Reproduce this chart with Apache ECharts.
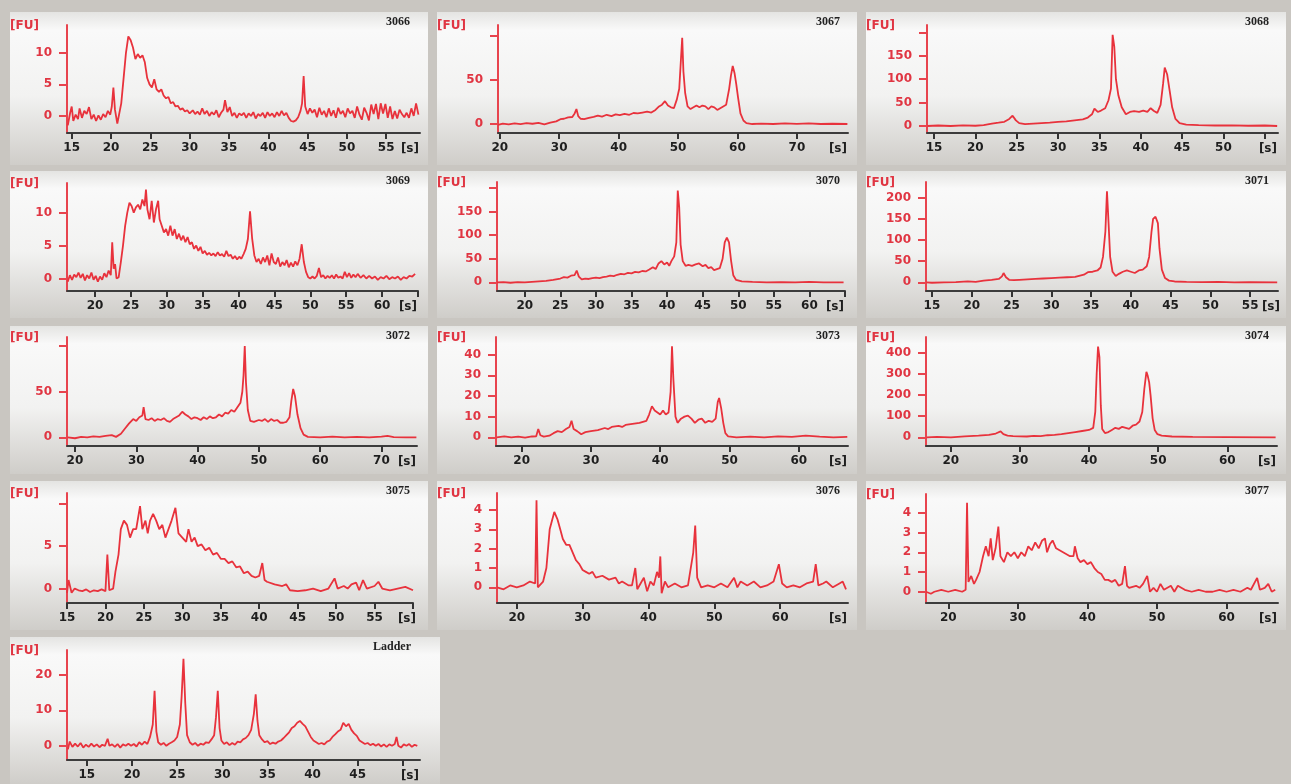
<!DOCTYPE html>
<html><head><meta charset="utf-8">
<script src="https://cdn.jsdelivr.net/npm/echarts@6/dist/echarts.min.js"></script>
<style>html,body{margin:0;padding:0;background:#c9c6c1;}#c{width:1291px;height:784px;}</style>
</head><body><div id="c"></div>
<script>
// ---------- data (time [s], fluorescence [FU]) ----------
const s3066 = [[14.5,-1.5],[14.8,0.5],[15.0,1.5],[15.2,-0.8],[15.5,0.2],[15.8,-0.5],[16.0,1.2],[16.3,-0.3],[16.6,0.8],[16.9,0.3],[17.2,1.4],[17.5,-0.5],[17.8,0.2],[18.1,-0.8],[18.4,0.1],[18.7,-0.6],[19.0,0.3],[19.3,-0.2],[19.6,0.8],[19.9,0.2],[20.1,1.5],[20.3,4.5],[20.5,1.0],[20.8,-1.2],[21.0,-1.5],[21.3,2],[21.6,6],[21.9,10],[22.2,12.6],[22.5,12],[22.8,10.8],[23.1,9],[23.4,9.8],[23.7,9.2],[24.0,9.6],[24.3,8.5],[24.6,6.0],[24.9,5.0],[25.2,4.5],[25.5,5.8],[25.8,4.2],[26.1,3.8],[26.4,4.2],[26.7,3.2],[27.0,2.8],[27.3,3.0],[27.6,2.0],[27.9,2.2],[28.2,1.5],[28.5,1.6],[28.8,1.0],[29.1,1.2],[29.4,0.7],[29.7,0.9],[30.0,0.4],[30.4,0.9],[30.7,0.3],[31.0,0.7],[31.3,0.2],[31.6,1.2],[31.9,0.3],[32.2,0.8],[32.5,0],[32.8,0.6],[33.1,0.2],[33.4,0.9],[33.7,-0.2],[34.0,0.5],[34.3,1.0],[34.5,2.5],[34.8,0.6],[35.1,1.4],[35.4,0],[35.7,0.5],[36.0,-0.3],[36.3,0.4],[36.6,0.1],[36.9,0.5],[37.2,-0.3],[37.5,0.4],[37.8,0],[38.1,0.6],[38.4,-0.4],[38.7,0.3],[39.0,0],[39.3,0.5],[39.6,-0.3],[39.9,0.6],[40.2,0],[40.5,0.4],[40.8,-0.2],[41.1,0.6],[41.4,0],[41.7,0.8],[42.0,0.1],[42.3,0.5],[42.6,-0.3],[42.9,-0.8],[43.2,-0.9],[43.5,-0.7],[43.8,-0.2],[44.1,0.8],[44.3,2.0],[44.5,6.3],[44.7,1.5],[45.0,0.3],[45.3,1.2],[45.6,0.5],[45.9,1.0],[46.2,-0.2],[46.5,1.3],[46.8,0.2],[47.1,0.8],[47.4,-0.2],[47.7,1.2],[48.0,0],[48.3,0.9],[48.6,-0.3],[48.9,1.3],[49.2,0.3],[49.5,0.8],[49.8,-0.2],[50.1,1.2],[50.4,0.4],[50.7,0.8],[51.0,-0.3],[51.3,1.5],[51.6,0.2],[51.9,-0.6],[52.2,1.3],[52.5,0.5],[52.8,-0.7],[53.1,1.8],[53.4,0.3],[53.7,1.9],[54.0,-0.5],[54.3,2.0],[54.6,0.4],[54.9,1.9],[55.2,-0.3],[55.5,1.5],[55.8,-0.5],[56.1,0.8],[56.4,-0.4],[56.7,1.0],[57.0,0.3],[57.3,-0.2],[57.6,0.5],[57.9,-0.3],[58.2,1.2],[58.5,0],[58.8,2.0],[59.1,0.2]];
const s3067 = [[19.7,-1],[20.5,0.5],[21.5,-0.5],[22.5,0.8],[23.5,0],[24.5,1],[25.5,0.3],[26.5,1.2],[27.5,-0.5],[28.5,1.5],[29.5,3],[30.2,5.5],[30.8,6],[31.5,7.5],[32.2,8],[32.6,12],[32.9,17],[33.2,9],[33.6,6],[34.2,5.5],[35,7],[35.8,8],[36.5,9.5],[37.2,8.5],[38,10.5],[38.8,9],[39.5,11],[40.2,10],[41,11.5],[41.8,10.5],[42.5,12.5],[43.2,12],[44,13],[44.8,14],[45.5,13],[46.2,16],[46.8,20],[47.3,22],[47.8,26],[48.3,21],[48.8,19],[49.3,18],[49.8,28],[50.2,40],[50.5,75],[50.7,98],[50.9,60],[51.2,35],[51.6,20],[52.1,17],[52.6,19],[53.1,21],[53.6,19],[54.1,21],[54.6,20],[55.1,17],[55.6,20],[56.1,19],[56.6,16],[57.1,18],[57.6,20],[58.1,22],[58.6,40],[58.9,55],[59.2,66],[59.5,58],[59.8,45],[60.1,30],[60.5,12],[61,4],[61.5,1],[62.5,0],[64,0.5],[66,0],[68,0.8],[70,0.2],[72,0.8],[74,0],[76,0.3],[78.5,0]];
const s3068 = [[14.2,0],[15.5,1],[17,0],[18.5,1.5],[20,0.5],[21,2],[22,5],[22.8,7],[23.5,9],[24.1,15],[24.5,22],[24.9,12],[25.3,6],[26,4],[27,5],[28,6],[29,7],[30,9],[31,10],[32,12],[33,14],[33.6,18],[34.1,25],[34.4,37],[34.8,30],[35.2,33],[35.7,38],[36.1,55],[36.4,80],[36.6,195],[36.8,170],[37.0,100],[37.3,65],[37.7,40],[38.2,25],[38.7,30],[39.2,32],[39.8,30],[40.3,33],[40.8,30],[41.2,38],[41.6,32],[42.0,28],[42.4,45],[42.7,90],[42.9,125],[43.2,110],[43.5,75],[43.8,40],[44.2,15],[44.7,6],[45.5,3],[47,2],[49,1],[51,1.5],[53,0.5],[55,1],[56.5,0]];
const s3069 = [[16.2,-0.5],[16.5,0.5],[16.8,-0.2],[17.1,0.6],[17.4,0.2],[17.7,0.9],[18.0,0.1],[18.3,0.7],[18.6,-0.3],[18.9,0.5],[19.2,0],[19.5,0.9],[19.8,-0.2],[20.1,0.4],[20.4,-0.5],[20.7,0.3],[21.0,-0.2],[21.3,0.8],[21.6,0.2],[21.9,1.2],[22.2,0.5],[22.4,5.5],[22.6,1.5],[22.8,2.2],[23.0,0],[23.3,0.2],[23.6,2.5],[23.9,5],[24.2,8],[24.5,10],[24.8,11.5],[25.1,11],[25.4,10],[25.7,10.8],[26.0,11.2],[26.3,10.5],[26.6,12],[26.9,11],[27.1,13.5],[27.3,10.5],[27.6,9],[27.9,11.8],[28.2,8.5],[28.5,10.5],[28.8,11.8],[29.0,9],[29.3,8],[29.6,7],[29.9,7.5],[30.2,6.5],[30.5,8],[30.8,6.5],[31.1,7.5],[31.4,6],[31.7,6.8],[32.0,5.8],[32.3,6.5],[32.6,5.5],[32.9,6.3],[33.2,5.2],[33.5,5.5],[33.8,4.5],[34.1,5],[34.4,4.2],[34.7,4.8],[35.0,3.8],[35.3,4.2],[35.6,3.6],[35.9,3.9],[36.2,3.5],[36.5,3.8],[36.8,3.4],[37.1,4],[37.4,3.5],[37.7,3.7],[38.0,3.3],[38.3,4.2],[38.6,3.4],[38.9,3.6],[39.2,3],[39.5,3.4],[39.8,2.9],[40.1,3.3],[40.4,3],[40.7,3.7],[41.0,4.5],[41.3,6],[41.6,10.2],[41.9,6],[42.2,3.5],[42.5,2.5],[42.8,3],[43.1,2.2],[43.4,3.2],[43.7,2.5],[44.0,3.5],[44.3,2],[44.6,3.8],[44.9,2.5],[45.2,2.2],[45.5,3.2],[45.8,1.8],[46.1,2.5],[46.4,2],[46.7,2.8],[47.0,1.7],[47.3,2.4],[47.6,1.8],[47.9,2.6],[48.2,2],[48.5,3],[48.8,5.2],[49.1,2.5],[49.4,1],[49.7,0.2],[50.0,0],[50.3,0.3],[50.6,0],[50.9,0.4],[51.2,1.6],[51.5,0.2],[51.8,0.5],[52.1,0],[52.4,0.4],[52.7,0.1],[53.0,0.5],[53.3,0],[53.6,0.6],[53.9,0.1],[54.2,0.3],[54.5,0],[54.8,1],[55.1,0.2],[55.4,0.8],[55.7,0.1],[56.0,0.6],[56.3,0.2],[56.6,0.7],[57.0,0.1],[57.4,0.5],[57.8,0],[58.2,0.4],[58.6,0],[59.0,0.3],[59.4,-0.2],[59.8,0.2],[60.2,0],[60.6,0.4],[61.0,-0.1],[61.4,0.2],[61.8,0],[62.2,0.3],[62.6,-0.2],[63.0,0.2],[63.4,0],[63.8,0.4],[64.2,0.3],[64.6,0.7]];
const s3070 = [[16.1,0],[17,0.5],[18,-1],[19,0.5],[20,0],[21,1],[22,2],[23,3],[24,5],[25,8],[25.5,11],[26,10],[26.5,14],[27,15],[27.3,25],[27.6,12],[28,6],[28.5,8],[29,7],[29.5,9],[30,10],[30.5,9],[31,11],[31.5,12],[32,14],[32.5,13],[33,16],[33.5,18],[34,17],[34.5,20],[35,19],[35.5,22],[36,21],[36.5,24],[37,23],[37.5,27],[38,32],[38.4,28],[38.8,40],[39.2,45],[39.6,38],[40,42],[40.3,35],[40.6,45],[41,55],[41.3,85],[41.5,195],[41.7,160],[41.9,80],[42.2,45],[42.6,35],[43,37],[43.5,35],[44,38],[44.5,40],[45,34],[45.4,37],[45.8,30],[46.2,32],[46.6,26],[47,28],[47.4,30],[47.8,50],[48.1,85],[48.4,95],[48.7,85],[49,45],[49.3,15],[49.7,5],[50.5,2],[52,1],[54,0],[56,0.5],[58,0],[60,1],[62,0],[64.8,0]];
const s3071 = [[14.3,0],[15,-1],[16.5,0],[18,0.5],[19.5,2],[20.5,1],[21.5,4],[22.5,6],[23.4,8],[23.8,14],[24.0,22],[24.3,12],[24.7,6],[25.3,5],[26,6],[27,7],[28,8],[29,9],[30,10],[31,11],[32,12],[33,13],[34.1,18],[34.6,24],[35.2,25],[35.8,28],[36.2,35],[36.5,60],[36.8,120],[37.0,215],[37.2,140],[37.4,60],[37.7,25],[38.1,15],[38.5,20],[39,25],[39.5,28],[40,25],[40.5,22],[41,28],[41.5,30],[42,38],[42.3,60],[42.6,120],[42.8,150],[43.1,155],[43.4,140],[43.6,80],[43.9,30],[44.3,10],[44.8,4],[45.5,2],[47,1],[49,0.5],[51,1],[53,0],[55,0.5],[58.4,0]];
const s3072 = [[18.8,0],[20,-1],[21,0.5],[22,0],[23,1],[24,0.5],[25,1.5],[26,2.5],[26.7,0.5],[27.5,4],[28.2,10],[28.8,15],[29.5,20],[30,18],[30.5,22],[31,24],[31.2,33],[31.5,20],[32,19],[32.5,21],[33,18],[33.5,20],[34,19],[34.5,21],[35,18],[35.5,17],[36,20],[36.5,22],[37,24],[37.5,28],[38,25],[38.5,23],[39,20],[39.5,22],[40,21],[40.5,19],[41,22],[41.5,20],[42,23],[42.5,21],[43,22],[43.5,25],[44,23],[44.5,27],[45,26],[45.5,30],[46,28],[46.5,33],[47,38],[47.3,50],[47.5,68],[47.7,100],[47.9,60],[48.2,30],[48.6,18],[49.2,17],[50,19],[50.5,18],[51,20],[51.5,17],[52,20],[52.5,18],[53,19],[53.5,16],[54,16],[54.5,17],[55,22],[55.3,40],[55.6,53],[55.9,45],[56.3,25],[56.8,10],[57.3,3],[58,0.5],[60,0],[62,0.8],[64,0],[66,0.5],[68,0],[70,0.8],[71,1.5],[72,0.3],[74,0],[75.7,0]];
const s3073 = [[16.4,0],[17.5,0.5],[18.5,0],[19.5,0.3],[20.5,-0.2],[21.5,0.4],[22.1,0.5],[22.4,4],[22.7,1],[23.2,0.3],[24,0.8],[24.6,2],[25.2,3],[25.8,2.5],[26.4,4],[26.9,5],[27.2,8],[27.5,4],[28,3],[28.6,1.5],[29.2,2.5],[30,3],[31,3.5],[32,4.5],[32.5,4],[33,5],[34,5.5],[34.5,5],[35,6],[36,6.5],[37,7],[37.5,7.5],[38,8],[38.4,11],[38.8,15],[39.2,13],[39.6,12],[40,11],[40.4,13],[40.8,11],[41.2,12],[41.5,22],[41.7,44],[41.9,28],[42.2,10],[42.5,7],[43,9],[43.5,10],[44,10.5],[44.5,9],[45,7],[45.5,8.5],[46,9],[46.5,7],[47,8],[47.5,7.5],[48,9],[48.3,17],[48.5,19],[48.8,14],[49.1,7],[49.4,2],[49.8,0.5],[51,0],[53,0.3],[55,0],[57,0.5],[59,0.2],[61,0.8],[63,0.3],[65,0],[67,0.2]];
const s3074 = [[16.5,0],[18,2],[20,0],[22,5],[24,8],[25.5,12],[26.5,18],[27.2,28],[27.6,15],[28.2,8],[29,6],[30,5],[31,4],[32,7],[33,6],[34,10],[35,12],[36,15],[37,20],[38,25],[39,30],[40,35],[40.6,45],[40.9,120],[41.1,300],[41.3,430],[41.5,380],[41.7,150],[41.9,40],[42.3,20],[42.8,25],[43.3,35],[43.8,45],[44.3,40],[44.8,50],[45.3,45],[45.8,40],[46.3,55],[46.8,60],[47.3,75],[47.7,120],[48,230],[48.3,310],[48.5,290],[48.7,260],[48.9,200],[49.2,90],[49.5,35],[49.9,15],[50.5,8],[52,4],[55,2],[60,1],[67,0]];
const s3075 = [[15.0,-0.5],[15.2,1],[15.6,-0.5],[16,0],[16.5,-0.2],[17,-0.3],[17.5,-0.1],[18,-0.4],[18.5,-0.2],[19,-0.3],[19.5,-0.1],[20,-0.3],[20.25,4],[20.5,-0.2],[21,0],[21.3,2],[21.7,4],[22,7],[22.4,8],[22.8,7.5],[23.2,6],[23.6,7],[24,7],[24.5,9.7],[24.8,7],[25.2,8],[25.5,6.5],[25.8,8],[26.2,8.8],[26.6,8],[27,7],[27.4,7.5],[27.8,6],[28.2,7],[28.6,8],[29.1,9.5],[29.5,6.5],[30,6],[30.5,5.5],[30.8,7],[31.2,5.5],[31.6,6],[32,5],[32.5,5.2],[33,4.5],[33.5,4.8],[34,4],[34.5,4.2],[35,3.5],[35.5,3.5],[36,3],[36.5,3.2],[37,2.5],[37.5,2.6],[38,1.8],[38.5,2],[39,1.5],[39.5,1.3],[40,1.5],[40.4,3],[40.7,1],[41,0.8],[42,0.5],[43,0.3],[43.5,0.5],[44,-0.2],[45,-0.3],[46,-0.2],[47,0],[48,-0.3],[49,0],[49.8,1.2],[50.2,0],[51,0.3],[51.5,0],[52,0.5],[52.6,0.7],[53,-0.2],[53.5,1],[54,0],[55,0.3],[55.5,0.8],[56,0],[57,-0.2],[58,0],[59,0.2],[60,-0.2]];
const s3076 = [[17,0],[18,-0.1],[19,0.1],[20,0],[21,0.1],[22,0.3],[22.8,0.2],[23,4.5],[23.2,0],[23.5,0],[24,0.3],[24.5,1],[25,3],[25.7,3.9],[26.2,3.5],[26.6,3],[27,2.5],[27.5,2.2],[28,2.2],[28.5,1.8],[29,1.4],[29.5,1.2],[30,0.9],[30.5,0.8],[31,0.7],[31.5,0.8],[32,0.5],[33,0.6],[34,0.4],[35,0.5],[35.5,0.2],[36,0.3],[37,0.1],[37.5,0.1],[38,1],[38.3,-0.1],[38.8,0.2],[39.3,0.5],[39.8,-0.2],[40.3,0.3],[40.8,0.1],[41.3,0.8],[41.6,0.5],[41.8,1.6],[42,-0.3],[42.5,0.3],[43,0],[44,0.2],[45,0],[46,0.1],[46.8,1.8],[47.1,3.2],[47.4,0.5],[48,0],[49,0.1],[50,0],[51,0.2],[52,0],[53,0.5],[53.5,0],[54,0.3],[55,0.1],[56,0.3],[57,0],[58,0.1],[59,0.3],[59.8,1.2],[60.3,0.2],[61,0],[62,0.1],[63,0],[64,0.2],[65,0.3],[65.4,1.2],[65.8,0.1],[66.5,0.2],[67,0.3],[68,0],[69,0.2],[69.5,0.3],[70,-0.1]];
const s3077 = [[16.8,0],[17.5,-0.1],[18,0],[19,0.1],[20,0],[21,0.1],[22,0],[22.5,0.1],[22.7,4.5],[22.9,0.5],[23.3,0.8],[23.7,0.4],[24,0.6],[24.5,1],[25,1.8],[25.4,2.3],[25.8,1.8],[26.1,2.7],[26.4,1.6],[26.8,2.2],[27.2,3.3],[27.5,1.8],[28,1.5],[28.5,2],[29,1.8],[29.5,2],[30,1.7],[30.5,2],[31,1.8],[31.5,2.3],[32,2.1],[32.5,2.5],[33,2.2],[33.5,2.6],[33.9,2.7],[34.2,2],[34.6,2.4],[35,2.6],[35.5,2.2],[36,2.1],[36.5,2],[37,1.9],[37.5,1.8],[38,1.8],[38.2,2.3],[38.6,1.7],[39,1.5],[39.5,1.6],[40,1.4],[40.5,1.5],[41,1.2],[41.5,1],[42,0.9],[42.5,0.6],[43,0.6],[43.5,0.5],[44,0.6],[44.5,0.3],[45,0.4],[45.4,1.3],[45.7,0.3],[46,0.2],[47,0.3],[47.5,0.2],[48,0.4],[48.6,0.8],[49,0],[49.5,0.2],[50,0],[50.5,0.4],[51,0.1],[52,0.3],[52.5,0],[53,0.3],[54,0.1],[55,0],[56,0.1],[57,0],[58,0],[59,0.1],[60,0],[61,0.1],[62,0],[63,0.2],[63.5,0.1],[64.4,0.7],[64.8,0.1],[65.5,0.2],[66,0.4],[66.5,0],[67,0.1]];
const sLadder = [[12.9,-1],[13.1,1.2],[13.4,-0.3],[13.7,0.6],[14.0,-0.2],[14.3,0.8],[14.6,-0.5],[14.9,0.3],[15.2,-0.3],[15.5,0.6],[15.8,-0.2],[16.1,0.4],[16.4,-0.4],[16.7,0.3],[17.0,0],[17.3,2],[17.5,0],[17.8,0.4],[18.1,-0.3],[18.4,0.5],[18.7,-0.5],[19.0,0.4],[19.3,0],[19.6,0.6],[19.9,0],[20.2,0.5],[20.5,-0.2],[20.8,1.0],[21.1,0.3],[21.4,1.2],[21.7,0.5],[22.0,2.5],[22.3,6],[22.5,15.5],[22.7,4],[22.9,1],[23.2,0.3],[23.5,0.8],[23.8,0],[24.1,0.6],[24.4,1],[24.7,1.5],[25.0,2.5],[25.3,6],[25.5,14],[25.7,24.5],[25.9,12],[26.1,3],[26.4,1],[26.7,0.3],[27.0,0.8],[27.3,0],[27.6,0.6],[27.9,0.3],[28.2,1],[28.5,0.8],[28.8,1.8],[29.1,3],[29.3,8],[29.5,15.5],[29.7,5],[29.9,1.5],[30.2,0.5],[30.5,1],[30.8,0.2],[31.1,0.8],[31.4,0.3],[31.7,1.2],[32.0,1],[32.3,1.8],[32.6,2.2],[32.9,3],[33.2,4.5],[33.5,9],[33.7,14.5],[33.9,7],[34.1,3],[34.4,1.8],[34.7,1],[35.0,1.3],[35.3,0.5],[35.6,0.9],[35.9,0.6],[36.2,1.2],[36.5,1.5],[36.8,2.2],[37.1,3],[37.4,3.8],[37.7,5],[38.0,5.5],[38.3,6.5],[38.6,7],[38.9,6.2],[39.2,5.5],[39.5,4],[39.8,2.5],[40.1,1.5],[40.4,1],[40.7,0.5],[41.0,0.8],[41.3,0.4],[41.6,1.2],[41.9,1.5],[42.2,2.5],[42.5,3.2],[42.8,4],[43.1,4.5],[43.4,6.5],[43.7,5.5],[44.0,6.2],[44.3,4.5],[44.6,3.5],[44.9,2.8],[45.2,1.5],[45.5,1],[45.8,0.5],[46.1,0.8],[46.4,0.2],[46.7,0.6],[47.0,0],[47.3,0.5],[47.6,-0.2],[47.9,0.4],[48.2,-0.3],[48.5,0.4],[48.8,0],[49.1,0.5],[49.3,2.5],[49.5,0],[49.8,-0.5],[50.1,0.4],[50.4,0],[50.7,0.5],[51.0,-0.3],[51.3,0.3],[51.6,0]];

// tick values / tick labels
const xt3066 = [15,20,25,30,35,40,45,50,55], xl3066 = xt3066;
const xt3067 = [20,30,40,50,60,70], xl3067 = xt3067;
const xt3068 = [15,20,25,30,35,40,45,50,55], xl3068 = [15,20,25,30,35,40,45,50];
const xt3069 = [20,25,30,35,40,45,50,55,60,65], xl3069 = [20,25,30,35,40,45,50,55,60];
const xt3070 = [20,25,30,35,40,45,50,55,60,65], xl3070 = [20,25,30,35,40,45,50,55,60];
const xt3071 = [15,20,25,30,35,40,45,50,55], xl3071 = xt3071;
const xt3072 = [20,30,40,50,60,70], xl3072 = xt3072;
const xt3073 = [20,30,40,50,60], xl3073 = xt3073;
const xt3074 = [20,30,40,50,60], xl3074 = xt3074;
const xt3075 = [15,20,25,30,35,40,45,50,55,60], xl3075 = [15,20,25,30,35,40,45,50,55];
const xt3076 = [20,30,40,50,60], xl3076 = xt3076;
const xt3077 = [20,30,40,50,60], xl3077 = xt3077;
const xtLadder = [15,20,25,30,35,40,45,50], xlLadder = [15,20,25,30,35,40,45];

const yt3066 = [0,5,10], yl3066 = yt3066;
const yt3067 = [0,50,100], yl3067 = [0,50];
const yt3068 = [0,50,100,150,200], yl3068 = [0,50,100,150];
const yt3069 = [0,5,10], yl3069 = yt3069;
const yt3070 = [0,50,100,150,200], yl3070 = [0,50,100,150];
const yt3071 = [0,50,100,150,200], yl3071 = yt3071;
const yt3072 = [0,50,100], yl3072 = [0,50];
const yt3073 = [0,10,20,30,40], yl3073 = yt3073;
const yt3074 = [0,100,200,300,400], yl3074 = yt3074;
const yt3075 = [0,5,10], yl3075 = [0,5];
const yt3076 = [0,1,2,3,4], yl3076 = yt3076;
const yt3077 = [0,1,2,3,4,5], yl3077 = [0,1,2,3,4];
const ytLadder = [0,10,20], ylLadder = ytLadder;

const names = ['3066','3067','3068','3069','3070','3071','3072','3073','3074','3075','3076','3077','Ladder'];

// ---------- layout ----------
// box: panel rect [x,y,w,h]; plot: [left, top, right, bottom] px; xr / yr: axis ranges; tr: title right inset; sx: [s] shift
const layout = [
  {d:s3066, xt:xt3066, xl:xl3066, yt:yt3066, yl:yl3066, box:[10,12,418,153], plot:[67,25,420,133], xr:[14.4,59.3], yr:[-2.7,14.4], tr:18, sx:0},
  {d:s3067, xt:xt3067, xl:xl3067, yt:yt3067, yl:yl3067, box:[437,12,420,153], plot:[498,25,848,133], xr:[19.7,78.6], yr:[-10.2,112.5], tr:17, sx:0},
  {d:s3068, xt:xt3068, xl:xl3068, yt:yt3068, yl:yl3068, box:[866,12,420,153], plot:[927,25,1278,133], xr:[14.15,56.6], yr:[-15,216], tr:17, sx:0},
  {d:s3069, xt:xt3069, xl:xl3069, yt:yt3069, yl:yl3069, box:[10,171,418,147], plot:[67,183,418,291], xr:[16.1,65], yr:[-1.9,14.5], tr:18, sx:0},
  {d:s3070, xt:xt3070, xl:xl3070, yt:yt3070, yl:yl3070, box:[437,171,420,147], plot:[497,182,845,291], xr:[16.1,65], yr:[-18.5,213], tr:17, sx:0},
  {d:s3071, xt:xt3071, xl:xl3071, yt:yt3071, yl:yl3071, box:[866,171,420,147], plot:[926,182,1278,291], xr:[14.25,58.5], yr:[-20.5,237], tr:17, sx:3},
  {d:s3072, xt:xt3072, xl:xl3072, yt:yt3072, yl:yl3072, box:[10,326,418,148], plot:[67,337,417,446], xr:[18.7,75.8], yr:[-9.5,110], tr:18, sx:0},
  {d:s3073, xt:xt3073, xl:xl3073, yt:yt3073, yl:yl3073, box:[437,326,420,148], plot:[496,337,848,446], xr:[16.3,67.1], yr:[-4.2,48.5], tr:17, sx:0},
  {d:s3074, xt:xt3074, xl:xl3074, yt:yt3074, yl:yl3074, box:[866,326,420,148], plot:[926,337,1277,446], xr:[16.4,67.2], yr:[-41,475], tr:17, sx:0},
  {d:s3075, xt:xt3075, xl:xl3075, yt:yt3075, yl:yl3075, box:[10,481,418,149], plot:[67,493,413,603], xr:[15,60], yr:[-1.7,11.25], tr:18, sx:4},
  {d:s3076, xt:xt3076, xl:xl3076, yt:yt3076, yl:yl3076, box:[437,481,420,149], plot:[497,493,848,603], xr:[17,70.3], yr:[-0.81,4.88], tr:17, sx:0},
  {d:s3077, xt:xt3077, xl:xl3077, yt:yt3077, yl:yl3077, box:[866,481,420,149], plot:[926,494,1278,603], xr:[16.8,67.4], yr:[-0.57,4.95], tr:17, sx:0},
  {d:sLadder, xt:xtLadder, xl:xlLadder, yt:ytLadder, yl:ylLadder, box:[10,637,430,147], plot:[67,650,420,760], xr:[12.8,51.9], yr:[-4,27], tr:29, sx:0}
];

const RED = '#e8323c', AXRED = '#e8444e', FONT = 'DejaVu Sans';
const grid = [], xAxis = [], yAxis = [], series = [], graphic = [];
layout.forEach((p, i) => {
  const [l, t, r, b] = p.plot;
  grid.push({left:l, top:t, width:r-l, height:b-t, containLabel:false});
  xAxis.push({type:'value', gridIndex:i, min:p.xr[0], max:p.xr[1],
    axisLine:{show:true, onZero:false, lineStyle:{color:'#3c3c3c', width:2}},
    axisTick:{show:true, customValues:p.xt, length:6, lineStyle:{color:'#333', width:2}},
    axisLabel:{customValues:p.xl, color:'#1e1e1e', fontWeight:'bold', fontSize:12, fontFamily:FONT, margin:9},
    splitLine:{show:false}});
  yAxis.push({type:'value', gridIndex:i, min:p.yr[0], max:p.yr[1],
    axisLine:{show:true, onZero:false, lineStyle:{color:AXRED, width:2}},
    axisTick:{show:true, customValues:p.yt, length:8, lineStyle:{color:AXRED, width:2}},
    axisLabel:{customValues:p.yl, color:'#e03542', fontWeight:'bold', fontSize:12, fontFamily:FONT, margin:15},
    splitLine:{show:false}});
  series.push({type:'line', xAxisIndex:i, yAxisIndex:i, data:p.d, showSymbol:false, silent:true,
    lineStyle:{color:RED, width:1.8}, animation:false});
  const [bx, by, bw, bh] = p.box;
  graphic.push({type:'rect', z:-10, silent:true, shape:{x:bx, y:by, width:bw, height:bh},
    style:{fill:new echarts.graphic.LinearGradient(0,0,0,1,[
      {offset:0, color:'#e4e4e2'},{offset:0.12, color:'#f9f9f9'},{offset:0.55, color:'#f2f2f1'},{offset:1, color:'#cfcdc9'}])}});
  graphic.push({type:'text', z:50, silent:true, x:bx+bw-p.tr, y:by+4,
    style:{text:names[i], align:'right', fill:'#222', font:'bold 12px "Liberation Serif"'}});
  graphic.push({type:'text', z:50, silent:true, x:bx, y:t-5,
    style:{text:'[FU]', fill:'#e03542', font:'bold 12px "DejaVu Sans"'}});
  graphic.push({type:'text', z:50, silent:true, x:r-1+p.sx, y:b+10,
    style:{text:'[s]', align:'right', fill:'#1e1e1e', font:'bold 12px "DejaVu Sans"'}});
});

const chart = echarts.init(document.getElementById('c'), null, {renderer:'canvas'});
chart.setOption({backgroundColor:'#c9c6c1', animation:false, grid, xAxis, yAxis, series, graphic});
</script></body></html>
